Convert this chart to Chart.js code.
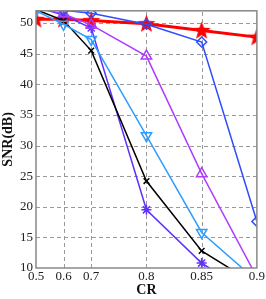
<!DOCTYPE html>
<html>
<head>
<meta charset="utf-8">
<script src="https://cdn.jsdelivr.net/npm/chart.js@4/dist/chart.umd.min.js"></script>
<style>
    html, body { margin: 0; padding: 0; background: #fff; }
    #wrap { width: 266px; height: 299px; position: relative; }
</style>
</head>
<body>
<div id="wrap"><canvas id="snrChart"></canvas></div>
<script>
// x positions on the axis (the original plot spaces 0.5-0.7 at half step)
const xPositions = [0, 1, 2, 4, 6, 8];
const xTickLabels = ['0.5', '0.6', '0.7', '0.8', '0.85', '0.9'];
const yTicks = [10, 15, 20, 25, 30, 35, 40, 45, 50];

const redStar = [50.6, 50.6, 50.4, 49.9, 48.8, 47.7];
const blueDiamond = [52.6, 52.1, 51.6, 49.8, 46.9, 17.6];
const purpleTriangle = [52.6, 51.5, 49.7, 44.6, 25.4, 8.5];
const lightBlueTriangle = [52.0, 49.8, 47.3, 31.6, 15.8, 7.9];
const blackCross = [52.2, 50.4, 45.5, 24.2, 12.8, 7.2];
const violetAsterisk = [52.6, 51.3, 49.2, 19.5, 10.8, 5.2];

function makeStar(size, color) {
    const c = document.createElement('canvas');
    c.width = size; c.height = size;
    const ctx = c.getContext('2d');
    const cx = size / 2, cy = size / 2 + 0.5, R = size / 2, r = R * 0.42;
    ctx.beginPath();
    for (let i = 0; i < 10; i++) {
        const rad = i % 2 === 0 ? R : r;
        const a = -Math.PI / 2 + i * Math.PI / 5;
        ctx.lineTo(cx + rad * Math.cos(a), cy + rad * Math.sin(a));
    }
    ctx.closePath();
    ctx.fillStyle = color;
    ctx.fill();
    return c;
}

function toPoints(values) {
    return values.map((v, i) => ({ x: xPositions[i], y: v }));
}

// dashed grid + gray box, drawn from the scales
const framePlugin = {
    id: 'frame',
    beforeDatasetsDraw(chart) {
        const { ctx, chartArea: a, scales } = chart;
        ctx.save();
        ctx.strokeStyle = '#9a9a9a';
        ctx.lineWidth = 1;
        ctx.setLineDash([4, 3]);
        xPositions.slice(1, -1).forEach(v => {
            const px = Math.round(scales.x.getPixelForValue(v)) + 0.5;
            ctx.beginPath(); ctx.moveTo(px, a.bottom); ctx.lineTo(px, a.top); ctx.stroke();
        });
        yTicks.slice(1).forEach(v => {
            const py = Math.round(scales.y.getPixelForValue(v)) + 0.5;
            ctx.beginPath(); ctx.moveTo(a.left, py); ctx.lineTo(a.right, py); ctx.stroke();
        });
        ctx.restore();
    },
    afterDraw(chart) {
        const { ctx, chartArea: a } = chart;
        ctx.save();
        ctx.strokeStyle = '#888';
        ctx.lineWidth = 1.5;
        ctx.strokeRect(a.left, a.top, a.right - a.left, a.bottom - a.top);
        ctx.restore();
    }
};

const serif = "'Liberation Serif', 'DejaVu Serif', serif";

new Chart(document.getElementById('snrChart'), {
    type: 'line',
    data: {
        datasets: [
            { data: toPoints(blueDiamond), borderColor: '#2d4cff', borderWidth: 1.5, pointStyle: 'rectRot', pointRadius: 5, pointBorderColor: '#2d4cff', pointBackgroundColor: 'rgba(0,0,0,0)', pointBorderWidth: 1.5 },
            { data: toPoints(purpleTriangle), borderColor: '#b03cff', borderWidth: 1.5, pointStyle: 'triangle', pointRadius: 6, pointBorderColor: '#b03cff', pointBackgroundColor: 'rgba(0,0,0,0)', pointBorderWidth: 1.5 },
            { data: toPoints(lightBlueTriangle), borderColor: '#2f9dff', borderWidth: 1.5, pointStyle: 'triangle', rotation: 180, pointRadius: 6, pointBorderColor: '#2f9dff', pointBackgroundColor: 'rgba(0,0,0,0)', pointBorderWidth: 1.5 },
            { data: toPoints(blackCross), borderColor: '#000', borderWidth: 1.5, pointStyle: 'crossRot', pointRadius: 4, pointBorderColor: '#000', pointBorderWidth: 1.5 },
            { data: toPoints(violetAsterisk), borderColor: '#6030ff', borderWidth: 1.5, pointStyle: 'star', pointRadius: 5, pointBorderColor: '#6030ff', pointBorderWidth: 1.5 },
            { data: toPoints(redStar), borderColor: '#ff0000', borderWidth: 3, pointStyle: makeStar(19, '#ff0000') }
        ]
    },
    options: {
        responsive: true,
        maintainAspectRatio: false,
        animation: false,
        layout: { padding: { top: 0, right: 8, left: 0, bottom: 0 } },
        plugins: {
            legend: { display: false },
            tooltip: { enabled: false }
        },
        elements: { line: { tension: 0 } },
        scales: {
            x: {
                type: 'linear',
                min: 0,
                max: 8,
                afterBuildTicks: (scale) => { scale.ticks = xPositions.map(v => ({ value: v })); },
                afterFit: (scale) => { scale.height = 31; },
                ticks: {
                    autoSkip: false,
                    maxRotation: 0,
                    padding: 1,
                    color: '#222',
                    font: { family: serif, size: 13 },
                    callback: (v) => xTickLabels[xPositions.indexOf(v)]
                },
                grid: { display: false, drawTicks: false, tickLength: 0 },
                border: { display: false },
                title: { display: true, text: 'CR', color: '#111', padding: 0, font: { family: serif, size: 14, weight: 'bold' } }
            },
            y: {
                min: 10,
                max: 52,
                afterBuildTicks: (scale) => { scale.ticks = yTicks.map(v => ({ value: v })); },
                afterFit: (scale) => { scale.width = 36; },
                ticks: {
                    padding: 3,
                    color: '#222',
                    font: { family: serif, size: 13 }
                },
                grid: { display: false, drawTicks: false, tickLength: 0 },
                border: { display: false },
                title: { display: true, text: 'SNR(dB)', color: '#111', padding: 0, font: { family: serif, size: 14, weight: 'bold' } }
            }
        }
    },
    plugins: [framePlugin]
});
</script>
</body>
</html>
